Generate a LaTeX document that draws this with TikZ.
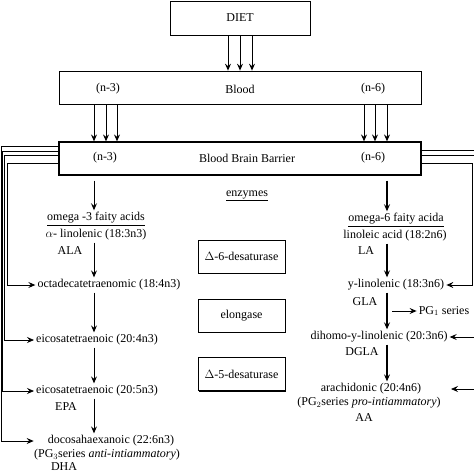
\documentclass[tikz,border=0pt]{standalone}
\usepackage{fontspec}
\setmainfont{Liberation Serif}
\usetikzlibrary{arrows.meta, shadows}

\begin{document}
\begin{tikzpicture}[x=1pt, y=-1pt, >={Stealth[length=7pt,width=6pt,inset=2.5pt]},
    font=\fontsize{12}{14}\selectfont,
    txt/.style={inner sep=2pt},
    bigbox/.style={draw, line width=1pt, minimum width=362pt, minimum height=33pt},
    enzbox/.style={draw, line width=0.8pt, fill=white, minimum width=87pt, minimum height=33pt,
        drop shadow={shadow xshift=1.2pt, shadow yshift=-1.2pt, fill=black, opacity=1}},
    flow/.style={->, line width=1pt},
    side/.style={->, line width=0.8pt}]
    \useasboundingbox (0,0) rectangle (474,474);

    % Columns of the two pathways
    \coordinate (lcol) at (94,0);
    \coordinate (rcol) at (387,0);

    % Diet, blood and the barrier
    \node[bigbox, minimum width=140pt, minimum height=34pt] (diet) at (240,18) {DIET};
    \node[bigbox, line width=0.7pt] (blood) at (240,87.5) {};
    \node[bigbox, line width=1.2pt] (bbb) at (240,158.5) {};
    \node[txt] (bln3) at (108,89) {(n-3)};
    \node[txt] (bl) at (240,89) {Blood};
    \node[txt] (bln6) at (373,89) {(n-6)};
    \node[txt] (bbbn3) at (105,158) {(n-3)};
    \node[txt] (bbbl) at (247,158) {Blood Brain Barrier};
    \node[txt] (bbbn6) at (373,158) {(n-6)};

    % Diet into blood
    \foreach \dx in {-12,0,12}
        \draw[flow] ([xshift=\dx pt]diet.south) -- ([xshift=\dx pt]blood.north);
    % Blood into the barrier
    \foreach \px in {94,106,117,364,375,387}
        \draw[flow] (blood.south -| \px,0) -- (bbb.north -| \px,0);

    % Enzymes
    \node[txt] (enz) at (247,196) {\underline{enzymes}};
    \node[enzbox] (d6) at (241.5,256.5) {$\Delta$-6-desaturase};
    \node[enzbox] (elo) at (241.5,315.5) {elongase};
    \node[enzbox] (d5) at (241.5,374) {$\Delta$-5-desaturase};

    % omega-3 side
    \node[txt] (om3) at (96,219) {\underline{omega -3 faity acids}};
    \node[txt] (ala) at (96,235) {$\alpha$- linolenic (18:3n3)};
    \node[txt] (alaab) at (70,251) {ALA};
    \node[txt] (octa) at (109,285) {octadecatetraenomic (18:4n3)};
    \node[txt] (eico4) at (97,340) {eicosatetraenoic (20:4n3)};
    \node[txt] (eico5) at (97,391) {eicosatetraenoic (20:5n3)};
    \node[txt] (epa) at (66,407) {EPA};
    \node[txt] (docosa) at (111,441) {docosahaexanoic (22:6n3)};
    \node[txt] (pg3) at (107,455) {(PG$_3$series \textit{anti-intiammatory})};
    \node[txt] (dha) at (64,467) {DHA};

    \draw[flow] (bbb.south -| lcol) ++(0,5) -- (om3.north -| lcol);
    \draw[flow] (ala.south -| lcol) -- (octa.north -| lcol);
    \draw[flow] (octa.south -| lcol) -- (eico4.north -| lcol);
    \draw[flow] (eico4.south -| lcol) -- (eico5.north -| lcol);
    \draw[flow] (eico5.south -| lcol) -- (docosa.north -| lcol);

    % omega-6 side
    \node[txt] (om6) at (396,220) {\underline{omega-6 faity acida}};
    \node[txt] (la) at (395,236) {linoleic acid (18:2n6)};
    \node[txt] (laab) at (366,251) {LA};
    \node[txt] (gla) at (396,285) {y-linolenic (18:3n6)};
    \node[txt] (glaab) at (365,302) {GLA};
    \node[txt] (pg1) at (444,311) {PG$_1$ series};
    \node[txt] (dgla) at (379,337) {dihomo-y-linolenic (20:3n6)};
    \node[txt] (dglaab) at (362,352) {DGLA};
    \node[txt] (ara) at (371,389) {arachidonic (20:4n6)};
    \node[txt] (pg2) at (369,403) {(PG$_2$series \textit{pro-intiammatory})};
    \node[txt] (aa) at (364,418) {AA};

    \draw[flow, line width=1.3pt] (bbb.south -| rcol) ++(0,5) -- (om6.north -| rcol);
    \draw[flow, line width=1.3pt] (la.south -| rcol) -- (gla.north -| rcol);
    \draw[flow, line width=1.3pt] (gla.south -| rcol) -- (dgla.north -| rcol);
    \draw[flow, line width=1.3pt] (dgla.south -| rcol) -- (ara.north -| rcol);
    \draw[flow] (pg1.west -| 392,0) -- (pg1.west);

    % Lines leaving the barrier, left
    \draw[side, line width=1pt] ([yshift=-4.5pt]bbb.west) -| (octa.west -| 7,0) -- (octa.west);
    \draw[side] ([yshift=3pt]bbb.west) -| (eico4.west -| 4,0) -- (eico4.west);
    \draw[side] ([yshift=7.5pt]bbb.west) -| (eico5.west -| 2.5,0) -- (eico5.west);
    \draw[side] ([yshift=12pt]bbb.west) -| (docosa.west -| 1,0) -- ([xshift=-12pt]docosa.west);

    % Lines leaving the barrier, right
    \draw[side, line width=1pt] ([yshift=-4.5pt]bbb.east) -| (gla.east -| 472.5,0) -- (gla.east);
    \draw[side] ([yshift=3pt]bbb.east) -| (dgla.east -| 476,0) -- (dgla.east);
    \draw[side] ([yshift=8pt]bbb.east) -| (ara.east -| 478,0) -- (ara.east -| 451,0);
\end{tikzpicture}
\end{document}
